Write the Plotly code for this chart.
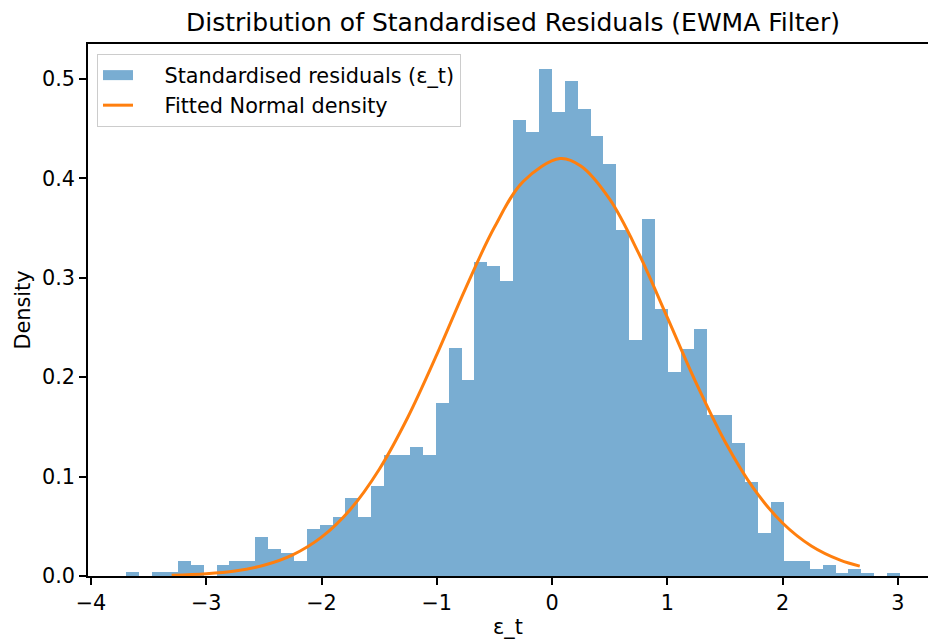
import numpy as np
import plotly.graph_objects as go

# Histogram of standardised residuals (density per bin)
bin_min = -3.694
bin_max = 3.019
n_bins = 60
density = [
    0.0037, 0.0, 0.0037, 0.0037, 0.0151, 0.0110, 0.0, 0.0110, 0.0151, 0.0151,
    0.0390, 0.0275, 0.0228, 0.0151, 0.0470, 0.0510, 0.0590, 0.0780, 0.0590, 0.0905,
    0.1220, 0.1220, 0.1300, 0.1220, 0.1740, 0.2290, 0.1970, 0.3156, 0.3120, 0.2965,
    0.4584, 0.4470, 0.5100, 0.4665, 0.4980, 0.4700, 0.4427, 0.4148, 0.3478, 0.2370,
    0.3595, 0.2686, 0.2056, 0.2287, 0.2485, 0.1617, 0.1617, 0.1338, 0.0946, 0.0430,
    0.0748, 0.0148, 0.0148, 0.0074, 0.0110, 0.0034, 0.0074, 0.0034, 0.0, 0.0034,
]

curve_x = [-3.3, -3.0, -2.75, -2.5, -2.25, -2.0, -1.75, -1.5, -1.25, -1.0, -0.75,
           -0.5, -0.25, 0.07, 0.25, 0.5, 0.75, 1.0, 1.25, 1.5, 1.75, 2.0, 2.25, 2.5, 2.67]
curve_y = [0.0008, 0.0023, 0.0051, 0.0108, 0.0213, 0.0391, 0.0670, 0.1072, 0.1600,
           0.2227, 0.2894, 0.3508, 0.3969, 0.4200, 0.4125, 0.3791, 0.3251, 0.2601,
           0.1942, 0.1353, 0.0879, 0.0533, 0.0302, 0.0159, 0.0099]

x_ticks = [-4, -3, -2, -1, 0, 1, 2, 3]
y_ticks = [0.0, 0.1, 0.2, 0.3, 0.4, 0.5]

edges = np.linspace(bin_min, bin_max, n_bins + 1)
centers = (edges[:-1] + edges[1:]) / 2
width = edges[1] - edges[0]

FONT = "DejaVu Sans"
FS = 20.8
BAR_COLOR = "rgba(31,119,180,0.6)"
PAD = "\u00a0" * 4

fig = go.Figure()
fig.add_trace(go.Bar(
    x=centers, y=density, width=width,
    marker=dict(color=BAR_COLOR, line=dict(width=0)),
    name="Standardised residuals (ε_t)", showlegend=False,
))
# legend proxy for the histogram patch
fig.add_trace(go.Scatter(
    x=[None], y=[None], mode="lines",
    line=dict(color=BAR_COLOR, width=14),
    name=PAD + "Standardised residuals (ε_t)",
))
fig.add_trace(go.Scatter(
    x=curve_x, y=curve_y, mode="lines",
    line=dict(color="#ff7f0e", width=3, shape="spline", smoothing=1.0),
    name=PAD + "Fitted Normal density",
))

fig.update_layout(
    width=928, height=643,
    margin=dict(l=88, r=0, t=44, b=67),
    paper_bgcolor="white", plot_bgcolor="white",
    font=dict(family=FONT, size=FS, color="black"),
    bargap=0,
    title=dict(text="Distribution of Standardised Residuals (EWMA Filter)",
               font=dict(family=FONT, size=25, color="black"),
               x=513 / 928, xanchor="center", y=1 - 22 / 643, yanchor="middle"),
    showlegend=True,
    legend=dict(x=0.0107, y=0.981, xanchor="left", yanchor="top",
                bgcolor="rgba(255,255,255,0.8)", bordercolor="#cccccc", borderwidth=1,
                font=dict(family=FONT, size=FS, color="black"),
                tracegroupgap=0),
)
fig.update_xaxes(
    range=[-4.026, 3.262], tickvals=x_ticks,
    ticktext=["\u2212" + str(abs(v)) if v < 0 else str(v) for v in x_ticks],
    showgrid=False, zeroline=False, automargin=False,
    showline=True, linecolor="black", linewidth=1.6, mirror=True,
    ticks="outside", ticklen=7, tickwidth=1.6, tickcolor="black",
    title=dict(text="ε_t", font=dict(family=FONT, size=FS), standoff=6),
)
fig.update_yaxes(
    range=[0, 0.5352], tickvals=y_ticks, ticktext=["0.0", "0.1", "0.2", "0.3", "0.4", "0.5"],
    showgrid=False, zeroline=False, automargin=False,
    showline=True, linecolor="black", linewidth=1.6,
    ticks="outside", ticklen=7, tickwidth=1.6, tickcolor="black",
    title=dict(text="Density", font=dict(family=FONT, size=FS), standoff=6),
)

fig.write_html(
    "out.html",
    config={"displayModeBar": False},
    post_script="document.body.style.margin='0';document.body.style.overflow='hidden';",
)
